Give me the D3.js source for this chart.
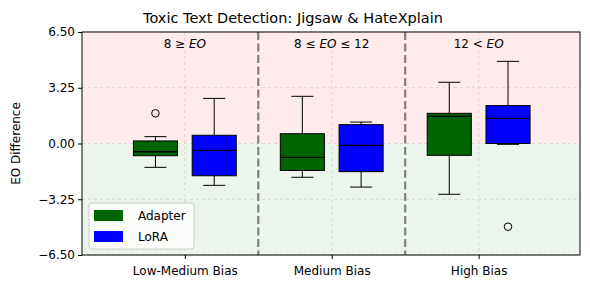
<!DOCTYPE html>
<html>
<head>
<meta charset="utf-8">
<script src="https://cdn.jsdelivr.net/npm/d3@7"></script>
<style>
  body { margin: 0; background: #fff; }
  svg { font-family: "DejaVu Sans", sans-serif; }
</style>
</head>
<body>
<div id="chart"></div>
<script>
// Bias groups on the x axis
const categories = ["Low-Medium Bias", "Medium Bias", "High Bias"];
// EO range label per group: [prefix, suffix] around the italic "EO"
const rangeLabels = [["8 ≥ ", ""], ["8 ≤ ", " ≤ 12"], ["12 < ", ""]];
const methods = ["Adapter", "LoRA"];

// [lower whisker, q1, median, q3, upper whisker] per group
const adapterBoxes = [
  [-1.39, -0.71, -0.48, 0.15, 0.40],
  [-1.97, -1.57, -0.81, 0.57, 2.75],
  [-2.96, -0.69, 1.58, 1.76, 3.57]
];
const loraBoxes = [
  [-2.44, -1.88, -0.40, 0.48, 2.63],
  [-2.54, -1.64, -0.11, 1.10, 1.25],
  [-0.05, 0.0, 1.47, 2.21, 4.79]
];
const adapterOutliers = [[1.76], [], []];
const loraOutliers = [[], [], [-4.85]];

const yTicks = [-6.5, -3.25, 0, 3.25, 6.5];

const config = {
  width: 590,
  height: 290,
  margin: { top: 32, right: 10, bottom: 35, left: 82 }
};
const innerW = 498;
const innerH = 223;

const svg = d3
  .select("#chart")
  .append("svg")
  .attr("width", config.width)
  .attr("height", config.height);

const g = svg
  .append("g")
  .attr("transform", `translate(${config.margin.left},${config.margin.top})`);

const x = d3.scaleLinear().domain([-0.7, 2.69]).range([0, innerW]);
const y = d3.scaleLinear().domain([-6.5, 6.5]).range([innerH, 0]);

// background bands
g.append("rect")
  .attr("x", 0).attr("y", y(6.5))
  .attr("width", innerW).attr("height", y(0) - y(6.5))
  .attr("fill", "rgb(255,235,235)");
g.append("rect")
  .attr("x", 0).attr("y", y(0))
  .attr("width", innerW).attr("height", y(-6.5) - y(0))
  .attr("fill", "rgb(235,245,235)");

// grid
g.selectAll("line.hgrid")
  .data(yTicks)
  .join("line")
  .attr("class", "hgrid")
  .attr("x1", 0).attr("x2", innerW)
  .attr("y1", (d) => y(d)).attr("y2", (d) => y(d))
  .attr("stroke", "#b0b0b0").attr("stroke-opacity", 0.5)
  .attr("stroke-width", 0.8).attr("stroke-dasharray", "3,3");
g.selectAll("line.vgrid")
  .data(categories)
  .join("line")
  .attr("class", "vgrid")
  .attr("x1", (d, i) => x(i)).attr("x2", (d, i) => x(i))
  .attr("y1", 0).attr("y2", innerH)
  .attr("stroke", "#b0b0b0").attr("stroke-opacity", 0.5)
  .attr("stroke-width", 0.8).attr("stroke-dasharray", "3,3");

// group separators
g.selectAll("line.sep")
  .data([0.5, 1.5])
  .join("line")
  .attr("class", "sep")
  .attr("x1", (d) => x(d)).attr("x2", (d) => x(d))
  .attr("y1", 0).attr("y2", innerH)
  .attr("stroke", "#808080")
  .attr("stroke-width", 2.2)
  .attr("stroke-dasharray", "8,3.5");

// boxes
const boxW = 0.3;
const series = [
  { name: "Adapter", color: "#006400", offset: -0.2, boxes: adapterBoxes, outliers: adapterOutliers },
  { name: "LoRA", color: "#0000ff", offset: 0.2, boxes: loraBoxes, outliers: loraOutliers }
];

series.forEach((s) => {
  const sg = g.append("g").attr("class", "series");
  s.boxes.forEach((b, i) => {
    const cx = i + s.offset;
    const [lo, q1, med, q3, hi] = b;
    const bg = sg.append("g");
    // whiskers
    bg.append("line")
      .attr("x1", x(cx)).attr("x2", x(cx))
      .attr("y1", y(q3)).attr("y2", y(hi))
      .attr("stroke", "#000").attr("stroke-width", 1);
    bg.append("line")
      .attr("x1", x(cx)).attr("x2", x(cx))
      .attr("y1", y(q1)).attr("y2", y(lo))
      .attr("stroke", "#000").attr("stroke-width", 1);
    // caps
    [lo, hi].forEach((v) => {
      bg.append("line")
        .attr("x1", x(cx - boxW / 4)).attr("x2", x(cx + boxW / 4))
        .attr("y1", y(v)).attr("y2", y(v))
        .attr("stroke", "#000").attr("stroke-width", 1);
    });
    bg.append("rect")
      .attr("x", x(cx - boxW / 2))
      .attr("y", y(q3))
      .attr("width", x(cx + boxW / 2) - x(cx - boxW / 2))
      .attr("height", y(q1) - y(q3))
      .attr("fill", s.color)
      .attr("stroke", "#000").attr("stroke-width", 1);
    bg.append("line")
      .attr("x1", x(cx - boxW / 2)).attr("x2", x(cx + boxW / 2))
      .attr("y1", y(med)).attr("y2", y(med))
      .attr("stroke", "#000").attr("stroke-width", 1.3);
    // outliers
    bg.selectAll("circle")
      .data(s.outliers[i])
      .join("circle")
      .attr("cx", x(cx)).attr("cy", (d) => y(d))
      .attr("r", 3.8)
      .attr("fill", "none").attr("stroke", "#000").attr("stroke-width", 1);
  });
});

// EO range labels
g.selectAll("text.range")
  .data(rangeLabels)
  .join("text")
  .attr("class", "range")
  .attr("x", (d, i) => x(i))
  .attr("y", 16)
  .attr("text-anchor", "middle")
  .attr("font-size", 12)
  .each(function (d) {
    const t = d3.select(this);
    t.append("tspan").text(d[0]);
    t.append("tspan").attr("font-style", "italic").text("EO");
    if (d[1]) t.append("tspan").text(d[1]);
  });

// axes
const xAxis = g.append("g")
  .attr("transform", `translate(0,${innerH})`)
  .call(d3.axisBottom(x).tickValues([0, 1, 2]).tickFormat((d) => categories[d]).tickSize(4).tickSizeOuter(0));
const yAxis = g.append("g")
  .call(d3.axisLeft(y).tickValues(yTicks).tickFormat((d) => d3.format(".2f")(d).replace("-", "−")).tickSize(4).tickSizeOuter(0));
[xAxis, yAxis].forEach((a) => {
  a.select(".domain").remove();
  a.selectAll("text").attr("font-size", 12).attr("fill", "#000").attr("font-family", "DejaVu Sans");
  a.selectAll("line").attr("stroke", "#000");
});
xAxis.selectAll("text").attr("dy", "1.1em");

// frame
g.append("rect")
  .attr("width", innerW).attr("height", innerH)
  .attr("fill", "none").attr("stroke", "#000").attr("stroke-width", 1);

// title and y label
svg.append("text")
  .attr("x", 293)
  .attr("y", 23)
  .attr("text-anchor", "middle")
  .attr("font-size", 14.5)
  .text("Toxic Text Detection: Jigsaw & HateXplain");
svg.append("text")
  .attr("transform", `translate(20,${config.margin.top + innerH / 2}) rotate(-90)`)
  .attr("text-anchor", "middle")
  .attr("font-size", 12)
  .text("EO Difference");

// legend
const legend = g.append("g").attr("transform", "translate(7,171)");
legend.append("rect")
  .attr("width", 105).attr("height", 46).attr("rx", 3)
  .attr("fill", "#fff").attr("fill-opacity", 0.8)
  .attr("stroke", "#ccc").attr("stroke-width", 1);
series.forEach((s, i) => {
  const row = legend.append("g").attr("transform", `translate(5,${7 + i * 21})`);
  row.append("rect").attr("width", 29).attr("height", 11).attr("fill", s.color);
  row.append("text").attr("x", 44).attr("y", 10).attr("font-size", 12).text(s.name);
});
</script>
</body>
</html>
